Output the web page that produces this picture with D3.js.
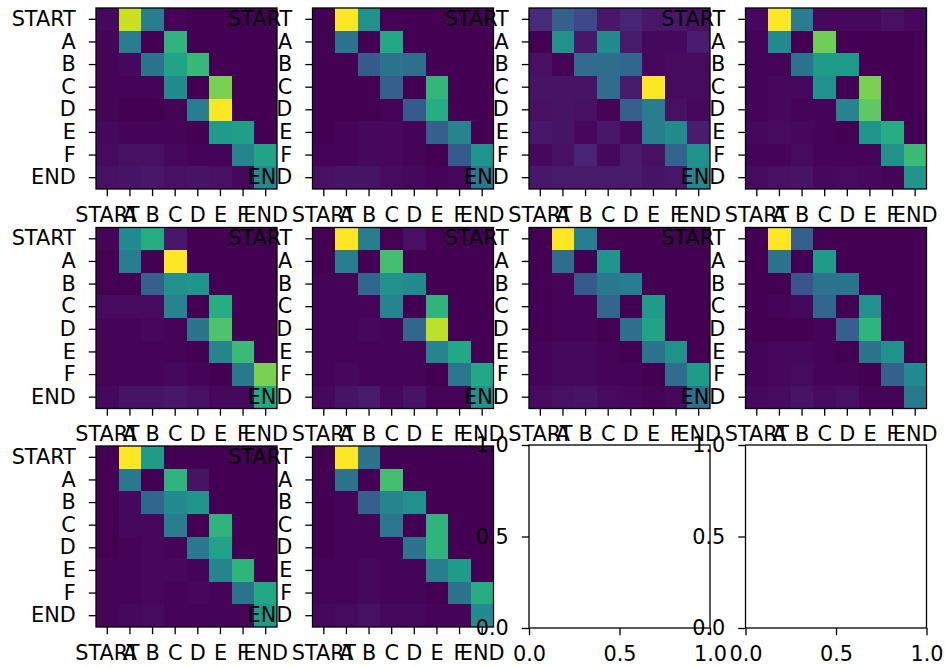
<!DOCTYPE html>
<html><head><meta charset="utf-8">
<script src="https://cdn.jsdelivr.net/npm/d3@7"></script>
<style>
html,body{margin:0;padding:0;background:#fff;}
svg{display:block;font-family:"DejaVu Sans",sans-serif;}
</style></head>
<body>
<svg id="chart" width="945" height="668"></svg>
<script>
const labels = ["START","A","B","C","D","E","F","END"];
const emptyTicks = [0, 0.5, 1.0];

// transition matrices (rows = from, columns = to)
const m1 = [
 [0.02,0.92,0.42,0.01,0,0,0,0],
 [0.01,0.42,0,0.65,0,0,0,0],
 [0.01,0.02,0.38,0.58,0.67,0,0,0],
 [0.01,0.01,0.01,0.48,0,0.80,0,0],
 [0.01,0,0,0.01,0.42,1.00,0,0],
 [0.02,0.01,0.01,0.01,0,0.55,0.56,0],
 [0.03,0.04,0.04,0.02,0.01,0.01,0.45,0.58],
 [0.04,0.05,0.06,0.04,0.05,0.04,0.02,0.47]];
const m2 = [
 [0,1.00,0.50,0,0,0,0,0],
 [0,0.38,0,0.60,0,0,0,0],
 [0,0,0.28,0.38,0.36,0,0,0],
 [0,0,0,0.30,0,0.66,0,0],
 [0,0,0,0.01,0.28,0.62,0,0],
 [0,0.01,0.02,0.02,0.01,0.30,0.45,0],
 [0.01,0.01,0.02,0.02,0.01,0,0.28,0.52],
 [0.04,0.05,0.05,0.03,0.02,0.01,0.02,0.40]];
const m3 = [
 [0.12,0.30,0.22,0.06,0.10,0.06,0.06,0.04],
 [0,0.50,0.06,0.48,0.07,0.02,0.02,0.08],
 [0.04,0.01,0.35,0.35,0.33,0.02,0.03,0.03],
 [0.05,0.05,0.05,0.35,0.07,1.00,0.03,0.03],
 [0.04,0.05,0.04,0.01,0.30,0.42,0.04,0.02],
 [0.06,0.05,0.02,0.06,0.02,0.42,0.48,0.08],
 [0.02,0.04,0.10,0.02,0.07,0.04,0.32,0.50],
 [0.06,0.07,0.07,0.07,0.07,0.05,0.06,0.46]];
const m4 = [
 [0.02,1.00,0.42,0.02,0.02,0.02,0.04,0.02],
 [0.01,0.48,0,0.78,0,0,0,0],
 [0.01,0.01,0.38,0.55,0.55,0,0,0],
 [0.01,0.02,0.02,0.50,0,0.80,0,0],
 [0.01,0.02,0.01,0.01,0.45,0.75,0,0],
 [0.02,0.03,0.02,0.01,0,0.52,0.62,0],
 [0.01,0.01,0.03,0.01,0.01,0.01,0.50,0.68],
 [0.03,0.04,0.05,0.02,0.03,0.02,0.01,0.52]];
const m5 = [
 [0.01,0.48,0.62,0.06,0,0,0,0],
 [0,0.42,0,1.00,0,0,0,0],
 [0,0,0.30,0.50,0.52,0,0,0],
 [0.03,0.03,0.03,0.45,0,0.62,0,0],
 [0.01,0.01,0.02,0.01,0.38,0.72,0,0],
 [0.01,0.01,0.01,0.01,0,0.45,0.68,0],
 [0.01,0.01,0.01,0.02,0.01,0,0.40,0.80],
 [0.02,0.05,0.05,0.06,0.04,0.02,0.02,0.60]];
const m6 = [
 [0,1.00,0.42,0,0.04,0,0,0],
 [0,0.42,0,0.70,0,0,0,0],
 [0.01,0.01,0.33,0.50,0.48,0,0,0],
 [0.01,0.01,0.01,0.45,0,0.65,0,0],
 [0.01,0.01,0.02,0.01,0.33,0.90,0,0],
 [0.01,0.01,0.01,0.01,0.01,0.45,0.60,0],
 [0.01,0.02,0.01,0.01,0.01,0,0.40,0.60],
 [0.02,0.05,0.07,0.02,0.05,0.01,0.01,0.50]];
const m7 = [
 [0,1.00,0.42,0,0,0,0,0],
 [0,0.35,0,0.52,0,0,0,0],
 [0,0.01,0.28,0.40,0.42,0,0,0],
 [0,0.01,0.01,0.33,0,0.55,0,0],
 [0,0.01,0.01,0,0.36,0.58,0,0],
 [0.01,0.02,0.02,0.01,0,0.38,0.50,0],
 [0.01,0.02,0.02,0.01,0.01,0,0.35,0.55],
 [0.03,0.04,0.05,0.03,0.02,0.01,0.02,0.38]];
const m8 = [
 [0,1.00,0.30,0,0,0,0,0],
 [0,0.38,0,0.55,0,0,0,0],
 [0,0,0.26,0.38,0.38,0,0,0],
 [0,0.01,0.02,0.33,0,0.50,0,0],
 [0,0,0,0.01,0.30,0.65,0,0],
 [0.01,0.02,0.02,0.01,0,0.38,0.50,0],
 [0.01,0.02,0.03,0.01,0.01,0,0.30,0.48],
 [0.02,0.03,0.05,0.03,0.04,0.01,0.01,0.40]];
const m9 = [
 [0,1.00,0.55,0,0,0,0,0],
 [0,0.40,0,0.65,0.05,0,0,0],
 [0,0.02,0.33,0.48,0.52,0,0,0],
 [0,0.02,0.02,0.42,0,0.65,0,0],
 [0,0.01,0.02,0.01,0.40,0.58,0,0],
 [0.01,0.01,0.02,0.02,0.01,0.45,0.65,0],
 [0.01,0.01,0.02,0.01,0.02,0.01,0.38,0.60],
 [0.01,0.02,0.03,0.01,0.01,0.01,0.01,0.55]];
const m10 = [
 [0,1.00,0.38,0,0,0,0,0],
 [0,0.38,0,0.70,0,0,0,0],
 [0,0.01,0.30,0.45,0.50,0,0,0],
 [0,0.01,0.01,0.40,0,0.65,0,0],
 [0,0.01,0.01,0.01,0.38,0.65,0,0],
 [0.01,0.01,0.02,0.01,0.01,0.42,0.55,0],
 [0.01,0.01,0.02,0.01,0.01,0,0.38,0.62],
 [0.02,0.03,0.04,0.02,0.02,0.01,0.01,0.48]];
const matrices = [m1,m2,m3,m4,m5,m6,m7,m8,m9,m10];

const svg = d3.select("#chart");
const colX = [96, 312.5, 529, 745.5];
const rowY = [7, 226.5, 445];
const boxW = 181, boxH = 183;
const FS = 20.8, TICK = 7.2, LW = 1.3;

function drawHeatmap(g, mat, x0, y0) {
  const size = Math.min(boxW, boxH);
  const top = y0 + (boxH - size) / 2;
  const xs = d3.scaleBand().domain(labels).range([x0, x0 + size]);
  const ys = d3.scaleBand().domain(labels).range([top, top + size]);
  const flat = mat.flat();
  const color = d3.scaleSequential(d3.interpolateViridis).domain(d3.extent(flat));
  const cells = [];
  mat.forEach((row, i) => row.forEach((v, j) => cells.push({r: labels[i], c: labels[j], v})));
  g.selectAll("rect.cell").data(cells).join("rect").attr("class","cell")
    .attr("x", d => xs(d.c)).attr("y", d => ys(d.r))
    .attr("width", xs.bandwidth() + 0.3).attr("height", ys.bandwidth() + 0.3)
    .attr("fill", d => color(d.v)).attr("shape-rendering","crispEdges");
  g.append("rect").attr("x", x0).attr("y", top).attr("width", size).attr("height", size)
    .attr("fill","none").attr("stroke","#000").attr("stroke-width", LW);
  const yAxis = d3.axisLeft(ys).tickSize(TICK).tickPadding(13);
  const ya = g.append("g").attr("transform", `translate(${x0},0)`).call(yAxis);
  const xAxis = d3.axisBottom(xs).tickSize(TICK).tickPadding(11);
  const xa = g.append("g").attr("transform", `translate(0,${top + size})`).call(xAxis);
  [ya, xa].forEach(a => {
    a.select(".domain").remove();
    a.selectAll("line").attr("stroke","#000").attr("stroke-width", LW);
    a.selectAll("text").attr("fill","#000").style("font-size", FS + "px").style("font-family","DejaVu Sans");
  });
}

function drawEmpty(g, x0, y0) {
  const xs = d3.scaleLinear().domain([0,1]).range([x0, x0 + boxW]);
  const ys = d3.scaleLinear().domain([0,1]).range([y0 + boxH, y0]);
  g.append("rect").attr("x", x0).attr("y", y0).attr("width", boxW).attr("height", boxH)
    .attr("fill","#fff").attr("stroke","#000").attr("stroke-width", LW);
  const ya = g.append("g").attr("transform", `translate(${x0},0)`)
    .call(d3.axisLeft(ys).tickValues(emptyTicks).tickFormat(d3.format(".1f")).tickSize(TICK).tickPadding(13));
  const xa = g.append("g").attr("transform", `translate(0,${y0 + boxH})`)
    .call(d3.axisBottom(xs).tickValues(emptyTicks).tickFormat(d3.format(".1f")).tickSize(TICK).tickPadding(11));
  [ya, xa].forEach(a => {
    a.select(".domain").remove();
    a.selectAll("line").attr("stroke","#000").attr("stroke-width", LW);
    a.selectAll("text").attr("fill","#000").style("font-size", FS + "px").style("font-family","DejaVu Sans");
  });
}

for (let k = 0; k < 12; k++) {
  const r = Math.floor(k / 4), c = k % 4;
  const g = svg.append("g");
  if (k < matrices.length) drawHeatmap(g, matrices[k], colX[c], rowY[r]);
  else drawEmpty(g, colX[c], rowY[r]);
}
</script>
</body></html>
